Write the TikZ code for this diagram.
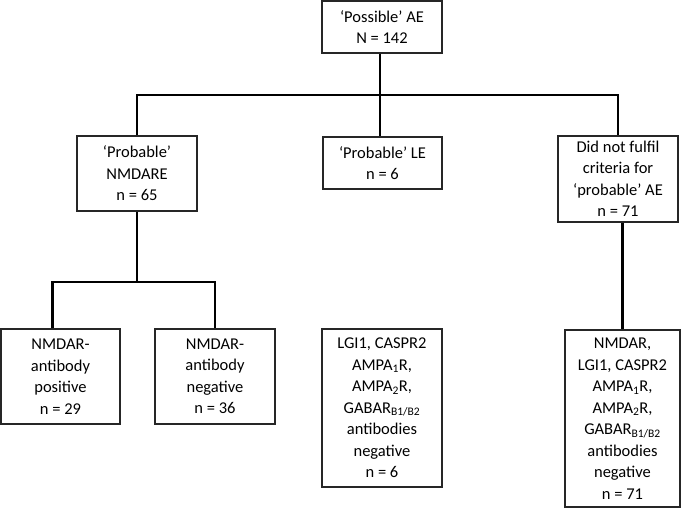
\documentclass[tikz,border=0pt]{standalone}
\usepackage{fontspec}
\setmainfont{Carlito}
\usetikzlibrary{calc}

\begin{document}
\begin{tikzpicture}[
  x=1pt, y=1pt,
  font=\fontsize{16.5}{21.5}\selectfont,
  box/.style={
    draw=black!85,
    line width=1.1pt,
    align=center,
    inner xsep=2pt,
    inner ysep=3pt,
    minimum width=120pt
  },
  link/.style={
    draw=black,
    line width=2.2pt
  }
]
\useasboundingbox (0,0) rectangle (685,-509);

% First level
\node[box, minimum height=52pt] (possible) at (382,-27) {`Possible' AE\\N = 142};

% Second level
\node[box, minimum height=75pt] (nmdare) at (137,-173.5) {`Probable'\\NMDARE\\n = 65};
\node[box, minimum height=52pt, minimum width=119pt] (le) at (382.5,-163) {`Probable' LE\\n = 6};
\node[box, minimum height=86pt, inner ysep=1pt] (notful) at (618,-179) {Did not fulfil\\criteria for\\`probable' AE\\n = 71};

% Third level
\node[box, minimum height=95pt, minimum width=119pt] (pos) at (60.5,-376.5) {NMDAR-\\antibody\\positive\\n = 29};
\node[box, minimum height=95pt] (neg) at (215,-376.5) {NMDAR-\\antibody\\negative\\n = 36};
\node[box, minimum height=158pt] (lesub) at (382,-408) {LGI1, CASPR2\\AMPA\textsubscript{1}R,\\AMPA\textsubscript{2}R,\\GABAR\textsubscript{B1/B2}\\antibodies\\negative\\n = 6};
\node[box, minimum height=177pt, minimum width=115pt, inner ysep=1pt] (nfsub) at (622.5,-418.5) {NMDAR,\\LGI1, CASPR2\\AMPA\textsubscript{1}R,\\AMPA\textsubscript{2}R,\\GABAR\textsubscript{B1/B2}\\antibodies\\negative\\n = 71};

\coordinate (bus) at (380,-95);
\coordinate (split) at (137,-282);

% Connectors
\draw[link] (possible.south -| bus) -- (le.north -| bus);
\draw[link] (nmdare.north) |- (bus) -| (notful.north);
\draw[link] (nmdare.south) -- (split);
\draw[link] ([xshift=-8pt]pos.north) |- (split) -| (neg.north);
\draw[link] (nfsub.north |- notful.south) -- (nfsub.north);

\end{tikzpicture}
\end{document}
